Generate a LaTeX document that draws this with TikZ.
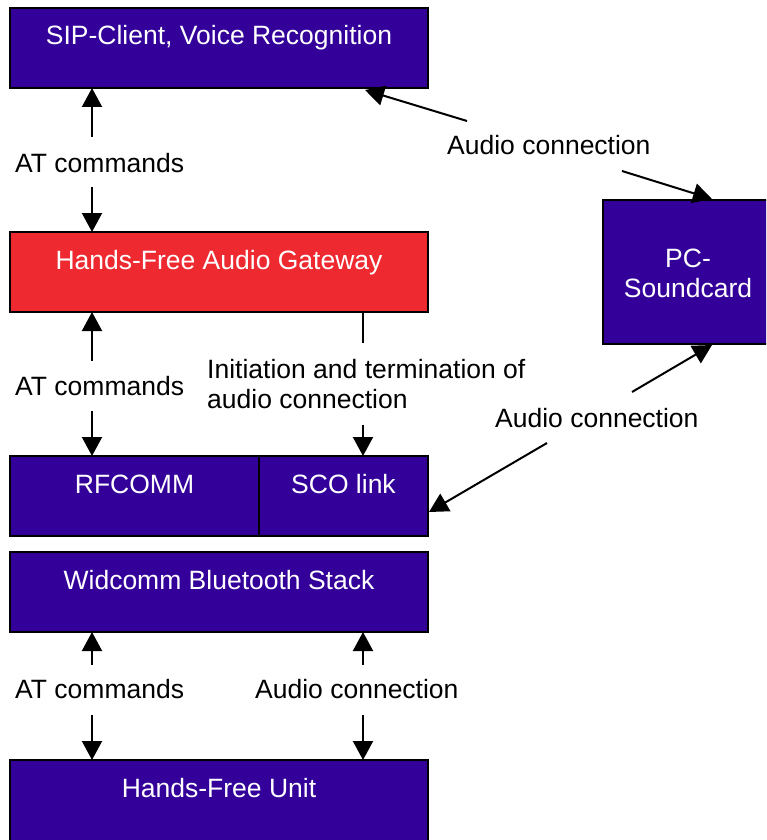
\documentclass[tikz,border=0pt]{standalone}
\usepackage{fontspec}
\setmainfont{Liberation Sans}
\usetikzlibrary{arrows.meta}
\definecolor{boxblue}{RGB}{51,0,153}
\definecolor{boxred}{RGB}{238,42,48}
\begin{document}
\begin{tikzpicture}[x=1pt,y=-1pt,
  font=\fontsize{26.5}{30}\selectfont,
  boxbase/.style={draw=black, line width=2pt, inner sep=0pt, outer sep=0pt},
  bluebox/.style={boxbase, fill=boxblue},
  redbox/.style={boxbase, fill=boxred},
  wtext/.style={text=white, inner sep=0pt, anchor=base},
  btext/.style={text=black, inner sep=0pt, anchor=base west},
  conn/.style={line width=2pt, -{Triangle[length=19pt,width=20pt]}},
  plainconn/.style={line width=2pt}
]
\useasboundingbox (0,0) rectangle (766,840);
\clip (0,0) rectangle (766,840);

% boxes
\node[bluebox, minimum width=418pt, minimum height=80pt] (sip) at (219,48) {};
\node[redbox, minimum width=418pt, minimum height=80pt] (hfag) at (219,272) {};
\node[bluebox, minimum width=249pt, minimum height=80pt] (rfcomm) at (134.5,496) {};
\node[bluebox, minimum width=169pt, minimum height=80pt] (sco) at (343.5,496) {};
\node[bluebox, minimum width=418pt, minimum height=80pt] (widcomm) at (219,592) {};
\node[bluebox, minimum width=418pt, minimum height=84pt] (hfu) at (219,802) {};
\node[bluebox, minimum width=170pt, minimum height=144pt] (pc) at (688,272) {};

% box texts
\node[wtext] (siptext) at (219,45) {SIP-Client, Voice Recognition};
\node[wtext] (hfagtext) at (219,269) {Hands-Free Audio Gateway};
\node[wtext] (rfcommtext) at (134.5,493) {RFCOMM};
\node[wtext] (scotext) at (343.5,493) {SCO link};
\node[wtext] (widcommtext) at (219,589) {Widcomm Bluetooth Stack};
\node[wtext] (hfutext) at (219,797) {Hands-Free Unit};
\node[wtext] (pctext1) at (688,267) {PC-};
\node[wtext] (pctext2) at (688,297) {Soundcard};

% labels
\node[btext] (at1) at (15,172) {AT commands};
\node[btext] (at2) at (15,395) {AT commands};
\node[btext] (at3) at (15,698) {AT commands};
\node[btext] (ac3) at (255,698) {Audio connection};
\node[btext] (init1) at (207,378) {Initiation and termination of};
\node[btext] (init2) at (207,408) {audio connection};
\node[btext] (ac1) at (447,154) {Audio connection};
\node[btext] (ac2) at (495,427) {Audio connection};

% connector free ends
\coordinate (a1) at (92,137);
\coordinate (a2) at (92,187);
\coordinate (a3) at (92,361);
\coordinate (a4) at (92,411);
\coordinate (a5) at (92,665);
\coordinate (a6) at (92,715);
\coordinate (b5) at (363,665);
\coordinate (b6) at (363,715);
\coordinate (i1) at (363,343);
\coordinate (i2) at (363,425);
\coordinate (d1) at (467,121);
\coordinate (d1t) at (365,90);
\coordinate (d2) at (622,171);
\coordinate (d2t) at (712,199);
\coordinate (d3) at (632,392);
\coordinate (d3t) at (712,345);
\coordinate (d4) at (547,443);
\coordinate (d4t) at (429,512);

% vertical connectors
\draw[conn] (a1) -- (a1 |- sip.south);
\draw[conn] (a2) -- (a2 |- hfag.north);
\draw[conn] (a3) -- (a3 |- hfag.south);
\draw[conn] (a4) -- (a4 |- rfcomm.north);
\draw[conn] (a5) -- (a5 |- widcomm.south);
\draw[conn] (a6) -- (a6 |- hfu.north);
\draw[conn] (b5) -- (b5 |- widcomm.south);
\draw[conn] (b6) -- (b6 |- hfu.north);
\draw[plainconn] (i1 |- hfag.south) -- (i1);
\draw[conn] (i2) -- (i2 |- sco.north);

% diagonal connectors
\draw[conn] (d1) -- (d1t);
\draw[conn] (d2) -- (d2t);
\draw[conn] (d3) -- (d3t);
\draw[conn] (d4) -- (d4t);
\end{tikzpicture}
\end{document}
